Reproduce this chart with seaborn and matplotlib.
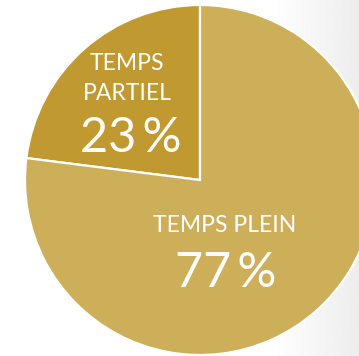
import numpy as np
import matplotlib
matplotlib.use("Agg")
import matplotlib.pyplot as plt
import seaborn as sns

# data
labels = ["TEMPS\nPARTIEL", "TEMPS PLEIN"]
shares = [23, 77]
colors = ["#C09A31", "#CDAF5A"]

sns.set_theme(style="white")
plt.rcParams['font.family'] = ['Lato', 'DejaVu Sans']

W, H = 359, 356
fig = plt.figure(figsize=(W / 100, H / 100), dpi=100)
fig.patch.set_facecolor("white")

# light grey gradient on the right of the background
bg = fig.add_axes([0, 0, 1, 1])
bg.set_axis_off()
xs = np.linspace(0, 1, 400)
grad = np.clip((xs - 0.76) / 0.24, 0, 1) * 0.07
img = 1 - np.tile(grad, (50, 1))
bg.imshow(img, cmap="gray", vmin=0, vmax=1, aspect="auto", extent=[0, 1, 0, 1])

# pie: centre at (200,180) px, radius 175 px
cx, cy, r = 200, 180, 175
ax = fig.add_axes([(cx - r) / W, (H - cy - r) / H, 2 * r / W, 2 * r / H])
wedges, _ = ax.pie(shares, colors=colors, startangle=90, counterclock=True,
                   wedgeprops=dict(edgecolor="white", linewidth=1.6))
for w in wedges:
    w.set_clip_on(False)
ax.set_xlim(-1, 1)
ax.set_ylim(-1, 1)
ax.set_aspect("equal")
ax.set_axis_off()

txt = dict(color="white", ha="center", va="baseline")
ax.text(-0.417, 0.629, "TEMPS", fontsize=16.5, **txt)
ax.text(-0.417, 0.457, "PARTIEL", fontsize=16.5, **txt)
ax.text(-0.394, 0.16, f"{shares[0]}\u2009%", fontsize=35, **txt)
ax.text(0.143, -0.297, labels[1], fontsize=16.5, **txt)
ax.text(0.149, -0.611, f"{shares[1]}\u2009%", fontsize=35, **txt)

fig.savefig("out.png", dpi=100)
